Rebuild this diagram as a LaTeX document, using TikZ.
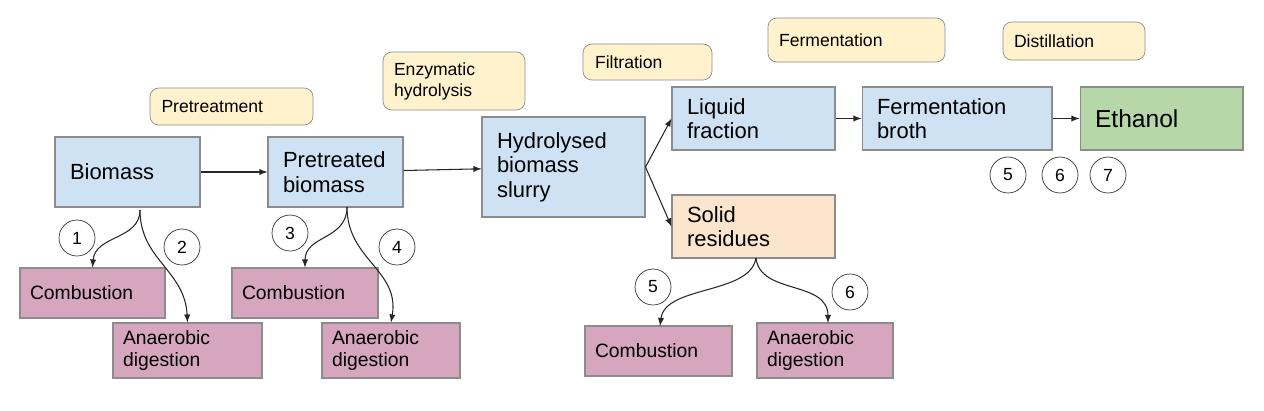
\documentclass[tikz,border=0pt]{standalone}
\usepackage{fontspec}
\setmainfont{Liberation Sans}
\definecolor{bl}{HTML}{CFE2F3}
\definecolor{gr}{HTML}{B6D7A8}
\definecolor{orr}{HTML}{FCE5CD}
\definecolor{pu}{HTML}{D5A6BD}
\definecolor{ye}{HTML}{FFF2CC}
\definecolor{ed}{HTML}{8C8C8C}
\begin{document}
\begin{tikzpicture}[x=0.02cm,y=-0.02cm,
 box/.style={draw=ed,line width=0.6pt,align=left,inner xsep=0.3cm,font=\fontsize{12.5}{14}\selectfont,anchor=center},
 lab/.style={draw=ed,fill=ye,rounded corners=5pt,align=left,font=\fontsize{10}{12}\selectfont,anchor=center},
 num/.style={draw=black!80,circle,minimum size=0.72cm,inner sep=0pt,font=\fontsize{10}{12}\selectfont},
 arr/.style={-latex,black!85,line width=0.6pt}]
\useasboundingbox (0,0) rectangle (1264,410);
% main boxes
\node[box,fill=bl,minimum width=2.9cm,minimum height=1.4cm,text width=2.3cm] (bio) at (127.5,172) {Biomass};
\node[box,fill=bl,minimum width=2.7cm,minimum height=1.4cm,text width=2.1cm] (pre) at (335.5,172) {Pretreated\\biomass};
\node[box,fill=bl,minimum width=3.26cm,minimum height=2.0cm,text width=2.66cm] (hyd) at (563.5,167) {Hydrolysed\\biomass\\slurry};
\node[box,fill=bl,minimum width=3.26cm,minimum height=1.26cm,text width=2.66cm] (liq) at (753.5,118.5) {Liquid\\fraction};
\node[box,fill=bl,minimum width=3.8cm,minimum height=1.26cm,text width=3.2cm] (fer) at (957,118.5) {Fermentation\\broth};
\node[box,fill=gr,minimum width=3.26cm,minimum height=1.26cm,text width=2.66cm,font=\fontsize{14}{16}\selectfont] (eth) at (1161.5,118.5) {Ethanol};
\node[box,fill=orr,minimum width=3.26cm,minimum height=1.26cm,text width=2.66cm] (sol) at (753.5,226.5) {Solid\\residues};
% end boxes
\tikzset{pbox/.style={box,fill=pu,font=\fontsize{11}{13}\selectfont,inner xsep=0.2cm}}
\node[pbox,minimum width=2.9cm,minimum height=1.0cm,text width=2.5cm] (c1) at (92.5,293) {Combustion};
\node[pbox,minimum width=2.98cm,minimum height=1.1cm,text width=2.58cm] (a1) at (187.5,350.5) {Anaerobic\\digestion};
\node[pbox,minimum width=2.92cm,minimum height=1.0cm,text width=2.52cm] (c2) at (305,293) {Combustion};
\node[pbox,minimum width=2.76cm,minimum height=1.1cm,text width=2.36cm] (a2) at (391,350.5) {Anaerobic\\digestion};
\node[pbox,minimum width=2.94cm,minimum height=1.0cm,text width=2.54cm] (c3) at (658.5,351) {Combustion};
\node[pbox,minimum width=2.72cm,minimum height=1.1cm,text width=2.32cm] (a3) at (825,350.5) {Anaerobic\\digestion};
% labels
\node[lab,minimum width=3.26cm,minimum height=0.74cm,text width=2.8cm] (l1) at (231.5,106.5) {Pretreatment};
\node[lab,minimum width=2.84cm,minimum height=1.16cm,text width=2.4cm] (l2) at (454,81) {Enzymatic\\hydrolysis};
\node[lab,minimum width=2.58cm,minimum height=0.72cm,text width=2.1cm] (l3) at (647.5,62) {Filtration};
\node[lab,minimum width=3.54cm,minimum height=0.88cm,text width=3.1cm] (l4) at (856.5,40) {Fermentation};
\node[lab,minimum width=2.84cm,minimum height=0.76cm,text width=2.4cm] (l5) at (1074,41) {Distillation};
% numbers
\node[num] (n1) at (77,238) {1};
\node[num] (n2) at (182,247) {2};
\node[num] (n3) at (290,233) {3};
\node[num] (n4) at (397,247) {4};
\node[num] (n5) at (653,287) {5};
\node[num] (n6) at (850,292) {6};
\node[num] (m5) at (1008,175) {5};
\node[num] (m6) at (1060,175) {6};
\node[num] (m7) at (1108,175) {7};
% arrows
\draw[arr] (bio.east) -- (pre.west |- bio.east);
\draw[arr] (pre) -- (hyd);
\draw[arr] (hyd.east) -- (liq.west);
\draw[arr] (hyd.east) -- (sol.west);
\draw[arr] (liq) -- (fer);
\draw[arr] (fer) -- (eth);
\coordinate (b1) at (140,210);
\draw[arr] (b1) .. controls (140,240) and (95,235) .. (c1.north);
\draw[arr] (b1) .. controls (140,260) and (185,270) .. (a1.north);
\coordinate (b2) at (347,207);
\draw[arr] (b2) .. controls (347,240) and (305,235) .. (c2.north);
\draw[arr] (b2) .. controls (347,260) and (400,270) .. (a2.north);
\coordinate (b3) at (756,258);
\coordinate (e3) at (660,326);
\coordinate (e4) at (828,323);
\draw[arr] (b3) .. controls (750,295) and (665,285) .. (e3);
\draw[arr] (b3) .. controls (760,295) and (828,280) .. (e4);
\end{tikzpicture}
\end{document}
